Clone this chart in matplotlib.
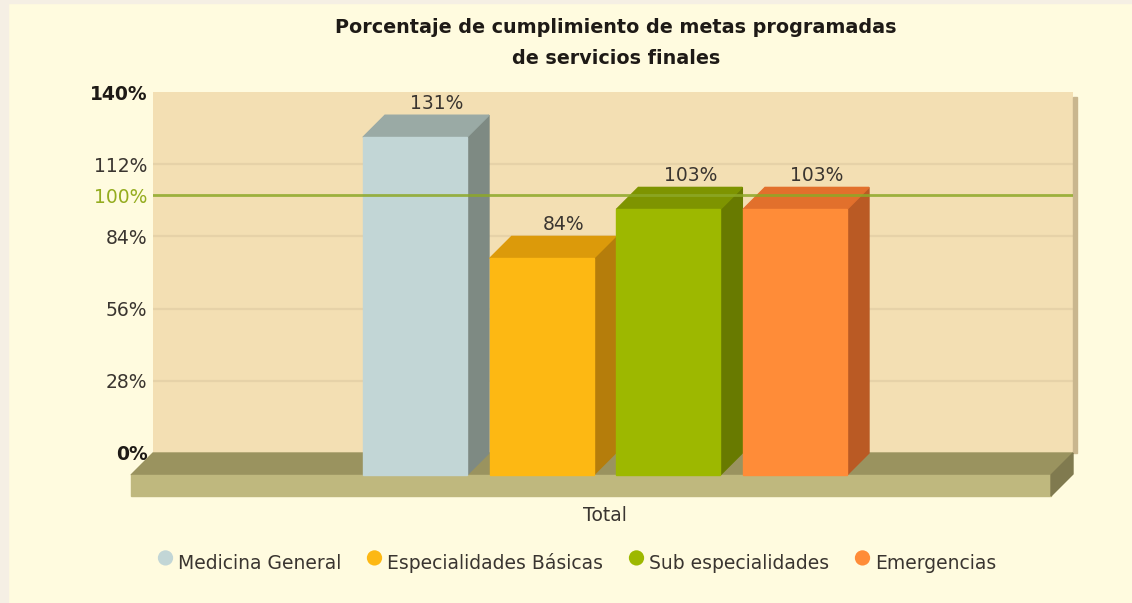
import matplotlib
matplotlib.use("Agg")
import matplotlib.pyplot as plt
from matplotlib.patches import Polygon, Rectangle
from matplotlib.lines import Line2D
from matplotlib.markers import MarkerStyle
import matplotlib.transforms as mtransforms

# ---- data ----
title = "Porcentaje de cumplimiento de metas programadas\nde servicios finales"
series = ["Medicina General", "Especialidades Básicas", "Sub especialidades", "Emergencias"]
values = [131, 84, 103, 103]
category = "Total"
yticks = [0, 28, 56, 84, 112, 140]
target = 100

# ---- style ----
front_colors = ["#C2D6D6", "#FDB813", "#9DB800", "#FF8C38"]
top_colors = ["#9AAAA5", "#DC9A0A", "#7E9400", "#E2702C"]
side_colors = ["#7E8A83", "#B57D0B", "#687A00", "#BA5A24"]
bg = "#FFFBDF"
wall = "#F3DFB3"
txt = "#3A3530"
fs = 13.5

W, H = 1132, 603
fig = plt.figure(figsize=(W / 100, H / 100), dpi=100, facecolor=bg)
# thin outer frame strip (left / top)
fig.patches.append(Rectangle((0, 0), 8 / W, 1, transform=fig.transFigure, color="#F5EFE4", zorder=0))
fig.patches.append(Rectangle((0, 1 - 3 / H), 1, 3 / H, transform=fig.transFigure, color="#F5EFE4", zorder=0))

ax_l, ax_r, ax_t, ax_b = 153, 1073, 92, 453
ax = fig.add_axes([ax_l / W, 1 - ax_b / H, (ax_r - ax_l) / W, (ax_b - ax_t) / H])
ax.set_facecolor(wall)
for s in ax.spines.values():
    s.set_visible(False)

xmin, xmax = -2.242, 5.021
ax.set_xlim(xmin, xmax)
ax.set_ylim(0, 140)

px_x = (xmax - xmin) / (ax_r - ax_l)   # data units per pixel (x)
px_y = 140 / (ax_b - ax_t)             # data units per pixel (y)
depth = 22
dx, dy = depth * px_x, depth * px_y
floor_h = 21 * px_y
bw = 104 * px_x

# gridlines
for g in yticks[1:-1]:
    ax.axhline(g, color="#E6D2A8", lw=1.6, zorder=1)

# wall right shadow
ax.add_patch(Rectangle((xmax, 0), 4 * px_x, 138, color="#C9B68E", clip_on=False, zorder=1))

# floor
ax.add_patch(Polygon([(xmin, 0), (xmax, 0), (xmax - dx, -dy), (xmin - dx, -dy)],
                     closed=True, color="#9A935F", clip_on=False, zorder=2))
ax.add_patch(Rectangle((xmin - dx, -dy - floor_h), xmax - xmin, floor_h,
                       color="#BFB87E", clip_on=False, zorder=2))
ax.add_patch(Polygon([(xmax - dx, -dy), (xmax, 0), (xmax, -floor_h), (xmax - dx, -dy - floor_h)],
                     closed=True, color="#807A4F", clip_on=False, zorder=2))

# bars
for i, v in enumerate(values):
    l, r = i - bw / 2, i + bw / 2
    ax.add_patch(Polygon([(r - dx, -dy), (r - dx, v - dy), (r, v), (r, 0)],
                         closed=True, color=side_colors[i], clip_on=False, zorder=3))
    ax.add_patch(Polygon([(l - dx, v - dy), (r - dx, v - dy), (r, v), (l, v)],
                         closed=True, color=top_colors[i], clip_on=False, zorder=3))
    ax.add_patch(Rectangle((l - dx, -dy), bw, v, color=front_colors[i], clip_on=False, zorder=3))
    ax.annotate(f"{v}%", (i, v), xytext=(0, 8.5), textcoords="offset points",
                ha="center", va="center", fontsize=fs, color=txt, zorder=6)

# target line
ax.axhline(target, color="#8DA828", lw=2, alpha=0.85, zorder=5)

# ticks
ticks = sorted(yticks + [target])
ax.set_yticks(ticks)
ax.set_yticklabels([f"{t}%" for t in ticks])
ax.tick_params(axis="y", length=0, pad=4, labelsize=fs, labelcolor=txt)
ax.set_xticks([])
for t, lab in zip(ticks, ax.get_yticklabels()):
    if t in (yticks[0], yticks[-1]):
        lab.set_fontweight("bold")
        lab.set_color("#1E1A16")
    if t == target:
        lab.set_color("#94AC1F")

# category label
ax.text(1.5 - dx, -0.172, category, transform=mtransforms.blended_transform_factory(ax.transData, ax.transAxes),
        ha="center", va="center", fontsize=fs, color=txt)

# title
fig.text(616 / W, 1 - 43 / H, title, ha="center", va="center", fontsize=13.8,
         fontweight="bold", color="#1E1A16", linespacing=1.75)

# legend
mk = MarkerStyle("o", transform=mtransforms.Affine2D().translate(0, 0.3))
handles = [Line2D([], [], marker=mk, ls="none", markersize=11, markerfacecolor=c,
                  markeredgecolor="none") for c in front_colors]
fig.legend(handles, series, loc="center", bbox_to_anchor=(577 / W, 1 - 563 / H), ncol=4,
           frameon=False, fontsize=fs, handlelength=0.8, handletextpad=0.3,
           columnspacing=1.35, labelcolor=txt)

fig.savefig("out.png", dpi=100, facecolor=bg)
